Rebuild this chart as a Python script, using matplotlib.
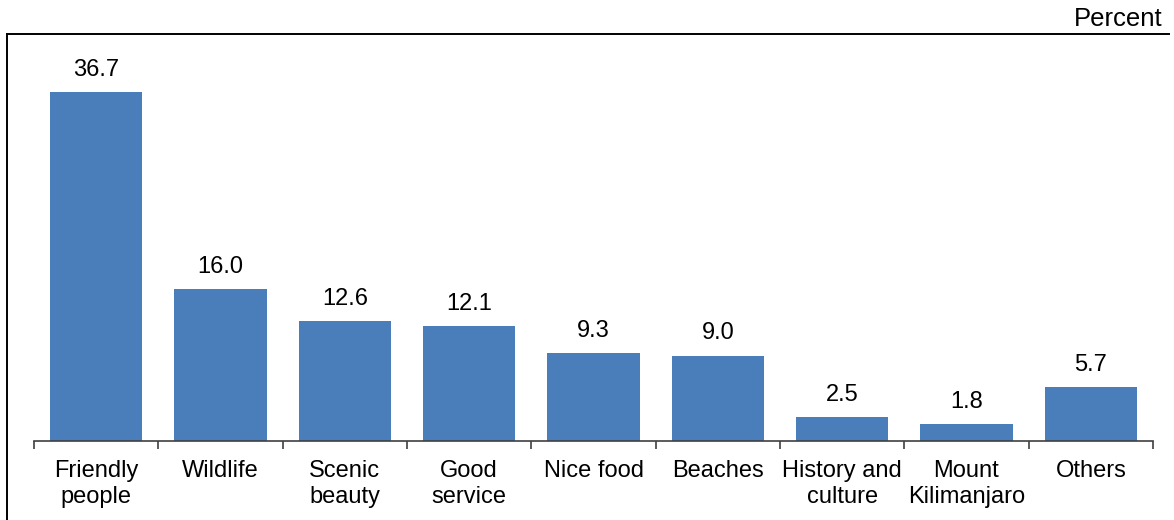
import numpy as np
import matplotlib
matplotlib.use("Agg")
import matplotlib.pyplot as plt
from matplotlib.lines import Line2D

plt.rcParams['font.family'] = ['Liberation Sans', 'DejaVu Sans']

categories = ["Friendly\npeople", "Wildlife", "Scenic\nbeauty", "Good\nservice",
              "Nice food", "Beaches", "History and\nculture", "Mount\nKilimanjaro",
              "Others"]
values = [36.7, 16.0, 12.6, 12.1, 9.3, 9.0, 2.5, 1.8, 5.7]
bar_color = "#4A7EBB"

W, H = 1174, 520
fig = plt.figure(figsize=(W / 100, H / 100), dpi=100)

# axes placed in pixel terms
left, right, base, top = 34, 1153, 441, 60
ax = fig.add_axes([left / W, (H - base) / H, (right - left) / W, (base - top) / H])

x = np.arange(len(values))
ax.bar(x, values, width=0.74, color=bar_color)
for xi, v in zip(x, values):
    ax.annotate(f"{v:.1f}", (xi, v), xytext=(0, 8), textcoords="offset points",
                ha="center", va="bottom", fontsize=17)

ax.set_xlim(-0.5, len(values) - 0.5)
ax.set_ylim(0, (base - top) / 9.5)

ax.set_xticks(x)
ax.set_xticklabels(categories, fontsize=17, linespacing=1.2)
ax.tick_params(axis="x", which="major", length=0, pad=14)
ax.set_xticks(np.arange(len(values) + 1) - 0.5, minor=True)
ax.tick_params(axis="x", which="minor", length=6, width=1.2, color="#404040")
ax.set_yticks([])
for s in ["left", "right", "top"]:
    ax.spines[s].set_visible(False)
ax.spines["bottom"].set_color("#404040")
ax.spines["bottom"].set_linewidth(1.2)

# cropped frame around the chart area
fig.add_artist(Line2D([7 / W, 1169 / W], [1 - 34 / H, 1 - 34 / H],
                      transform=fig.transFigure, color="black", lw=1.4))
fig.add_artist(Line2D([7 / W, 7 / W], [1 - 34 / H, 0],
                      transform=fig.transFigure, color="black", lw=1.4))

fig.text(1163 / W, 1 - 19 / H, "Percent", ha="right", va="center", fontsize=18.5)

fig.savefig("out.png", dpi=100)
